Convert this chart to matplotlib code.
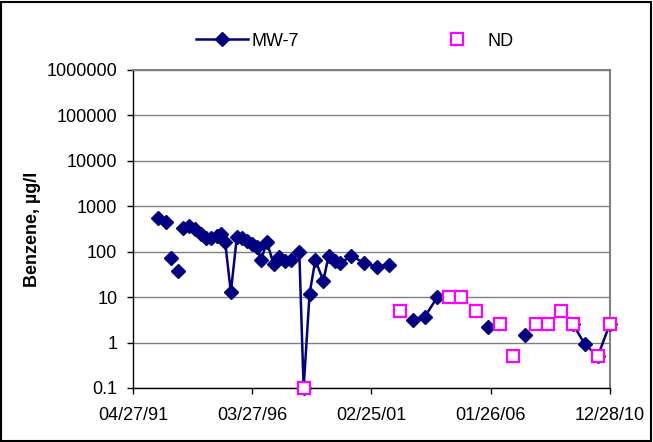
import numpy as np
import matplotlib
matplotlib.use("Agg")
import matplotlib.pyplot as plt
import matplotlib.dates as mdates
from matplotlib.patches import Rectangle
from matplotlib.ticker import FixedLocator, FixedFormatter, NullLocator

plt.rcParams.update({"font.family": ["Liberation Sans", "DejaVu Sans"],
                     "font.size": 13})

# MW-7 benzene results (ug/l); None = break in the line (blank cell)
MW7_DATES = ["1992-05-13", "1992-09-06", "1992-09-07", "1992-11-16",
             "1992-11-17", "1993-03-02", "1993-03-03", "1993-05-16",
             "1993-08-24", "1993-11-18", "1994-02-12", "1994-05-03",
             "1994-07-22", "1994-10-11", "1994-12-11", "1995-02-13",
             "1995-05-10", "1995-08-09", "1995-10-23", "1996-01-07",
             "1996-03-22", "1996-06-06", "1996-08-05", "1996-11-04",
             "1997-02-11", "1997-05-08", "1997-08-07", "1997-11-05",
             "1998-03-06", "1998-05-10", "1998-08-08", "1998-11-02",
             "1999-03-03", "1999-05-22", "1999-08-31", "1999-11-15",
             "2000-04-29", "2000-11-11", "2001-05-21", "2001-11-17",
             "2002-05-08", "2002-11-13", "2003-05-10", "2003-11-13",
             "2004-05-07", "2005-12-15", "2006-06-14", "2007-06-22",
             "2007-12-05", "2009-06-20", "2009-12-14", "2010-06-28",
             "2010-12-22"]
MW7_VALUES = [560, 449, None, 72, None, 37, None, 336,
              360, 319, 247, 201,
              201, 227, 240, 161,
              12.9, 215, 200, 175,
              148, 125, 65, 164,
              53, 78, 63, 65,
              97, 0.1, 12, 65,
              23, 81, 63, 56,
              81, 56, 46, 51,
              None, 3.2, 3.7, 10,
              None, 2.2, None, 1.5,
              None, 2.5, 0.92, 0.5,
              2.5]

# non-detects plotted at the detection limit
ND_DATES = ["1998-05-10", "2002-05-08", "2004-05-07", "2004-10-30",
            "2005-06-13", "2006-06-14", "2006-12-23", "2007-12-05",
            "2008-06-14", "2008-12-15", "2009-06-20", "2010-06-28",
            "2010-12-22"]
ND_VALUES = [0.1, 5, 10, 10, 5, 2.5, 0.5, 2.5, 2.5, 5, 2.5, 0.5, 2.5]

XTICKS = ["1991-04-27", "1996-03-27", "2001-02-25", "2006-01-26", "2010-12-28"]
YTICKS = [0.1, 1, 10, 100, 1000, 10000, 100000, 1000000]
YTICK_LABELS = ["0.1", "1", "10", "100", "1000", "10000", "100000", "1000000"]

mw7_x = np.array(MW7_DATES, dtype="datetime64[D]")
mw7_y = np.array([np.nan if v is None else v for v in MW7_VALUES], dtype=float)
nd_x = np.array(ND_DATES, dtype="datetime64[D]")
xt = np.array(XTICKS, dtype="datetime64[D]")

fig = plt.figure(figsize=(6.53, 4.42), dpi=100)
ax = fig.add_axes([133 / 653, 1 - 388 / 442, 477 / 653, 318 / 442])

ax.plot(mw7_x, mw7_y, color="#000080", lw=1.8, marker="D", ms=7.2,
        label="MW-7", zorder=3, clip_on=False)
ax.plot(nd_x, ND_VALUES, ls="none", marker="s", ms=8.5, mfc="white",
        mec="#FF00FF", mew=1.6, label="ND", zorder=4, clip_on=False)

ax.set_yscale("log")
ax.set_ylim(0.1, 1e6)
ax.yaxis.set_major_locator(FixedLocator(YTICKS))
ax.yaxis.set_major_formatter(FixedFormatter(YTICK_LABELS))
ax.yaxis.set_minor_locator(NullLocator())
ax.grid(axis="y", color="#808080", lw=1)
ax.set_axisbelow(True)

ax.set_xlim(xt[0], xt[-1])
ax.set_xticks(xt)
ax.xaxis.set_major_formatter(mdates.DateFormatter("%m/%d/%y"))
ax.tick_params(length=4.3, width=1, color="black")
ax.tick_params(axis="x", pad=9.5)
ax.tick_params(axis="y", pad=7)

for s in ("top", "right"):
    ax.spines[s].set_color("#808080")
    ax.spines[s].set_linewidth(1.5)
for s in ("left", "bottom"):
    ax.spines[s].set_color("black")
    ax.spines[s].set_linewidth(1)

ax.set_ylabel("Benzene, µg/l", fontweight="bold", fontsize=13)
ax.yaxis.set_label_coords((41 - 133) / 477, 0.5)

fig.legend(loc="center left", bbox_to_anchor=(196 / 653, 1 - 41 / 442),
           ncol=2, frameon=False, borderpad=0, borderaxespad=0,
           handlelength=2.9, handletextpad=0.2, columnspacing=7.3,
           fontsize=13)

fig.patches.append(Rectangle((0.002, 0.003), 0.995, 0.993,
                             transform=fig.transFigure, fill=False,
                             edgecolor="black", lw=1.5))

fig.savefig("out.png", dpi=100)
